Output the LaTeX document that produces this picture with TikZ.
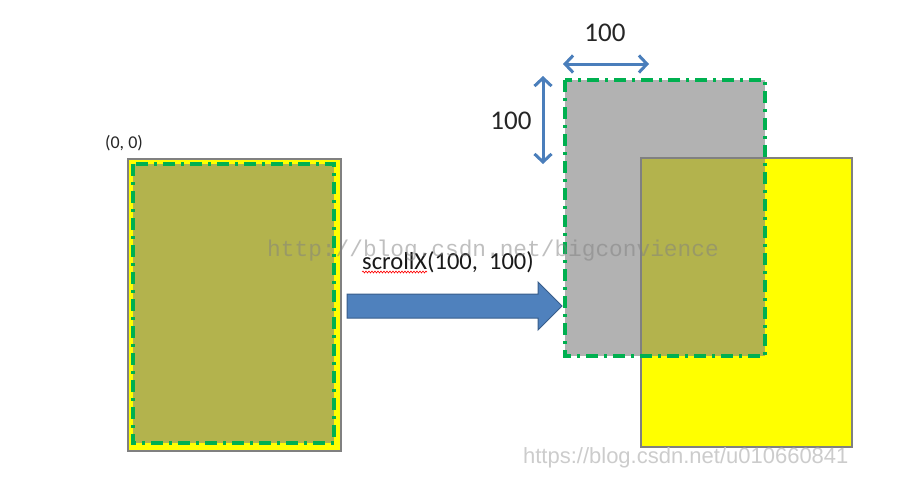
\documentclass[tikz,border=0pt]{standalone}
\usepackage{fontspec}
\setmainfont{Carlito}
\newfontfamily\markfont{Liberation Mono}
\newfontfamily\urlfont{Liberation Sans}
\usetikzlibrary{arrows.meta, decorations.pathmorphing}

\definecolor{pageolive}{RGB}{179,179,77}
\definecolor{pagegray}{RGB}{178,178,178}
\definecolor{pageyellow}{RGB}{255,255,0}
\definecolor{framegray}{RGB}{128,128,128}
\definecolor{dashgreen}{RGB}{0,176,80}
\definecolor{arrowblue}{RGB}{79,129,189}
\definecolor{arrowedge}{RGB}{56,93,138}
\definecolor{dimblue}{RGB}{74,126,187}

\tikzset{
  pagebox/.style={fill=pageyellow, draw=framegray, line width=2pt},
  viewport/.style={draw=dashgreen, line width=3.5pt, dash pattern=on 12pt off 6pt on 3pt off 6pt},
  dimarrow/.style={{Straight Barb[length=8pt,width=17pt]}-{Straight Barb[length=8pt,width=17pt]}, dimblue, line width=3pt},
  dimlabel/.style={font=\fontsize{27}{30}\selectfont, text=black!85}
}

\begin{document}
\begin{tikzpicture}[x=1pt, y=-1pt]
  \useasboundingbox (0,0) rectangle (901,479);

  % page before scrolling
  \draw[pagebox] (128,159) rectangle (341,451);
  \draw[viewport, fill=pageolive] (133,164) rectangle (334,443);
  \node[font=\fontsize{18}{20}\selectfont, text=black!85] (origin) at (124,143) {(0, 0)};

  % page after scrollX(100, 100)
  \fill[pagegray] (565,80) rectangle (765,356);
  \fill[pageyellow] (641,158) rectangle (852,447);
  \fill[pageolive] (641,158) rectangle (765,356);
  \draw[framegray, line width=2pt] (641,158) rectangle (852,447);
  \draw[viewport] (565,80) rectangle (765,356);

  % offsets
  \coordinate (dxl) at (563,64);
  \coordinate (dxr) at (649,64);
  \coordinate (dyt) at (543,76);
  \coordinate (dyb) at (543,164);
  \draw[dimarrow] (dxl) -- (dxr);
  \draw[dimarrow] (dyt) -- (dyb);
  \node[dimlabel] (dx) at (605,33) {100};
  \node[dimlabel] (dy) at (511,121) {100};

  % block arrow
  \filldraw[fill=arrowblue, draw=arrowedge, line width=1pt]
    (347,294) -- (538,294) -- (538,282) -- (562,306) -- (538,330) -- (538,318) -- (347,318) -- cycle;
  \node[font=\fontsize{24.5}{28}\selectfont, text=black!90] (call) at (448,262) {scrollX(100,~~100)};
  \draw[red, line width=0.6pt, decorate, decoration={snake, amplitude=1pt, segment length=3pt}]
    (362,272) -- (427,272);

  % watermarks
  \node[font=\markfont\fontsize{22.8}{24}\selectfont, text=gray, opacity=0.5] (mark) at (493,251) {http://blog.csdn.net/bigconvience};
  \node[font=\urlfont\fontsize{22}{24}\selectfont, text=gray!40, anchor=east] (url) at (852,458) {https://blog.csdn.net/u010660841};
\end{tikzpicture}
\end{document}
